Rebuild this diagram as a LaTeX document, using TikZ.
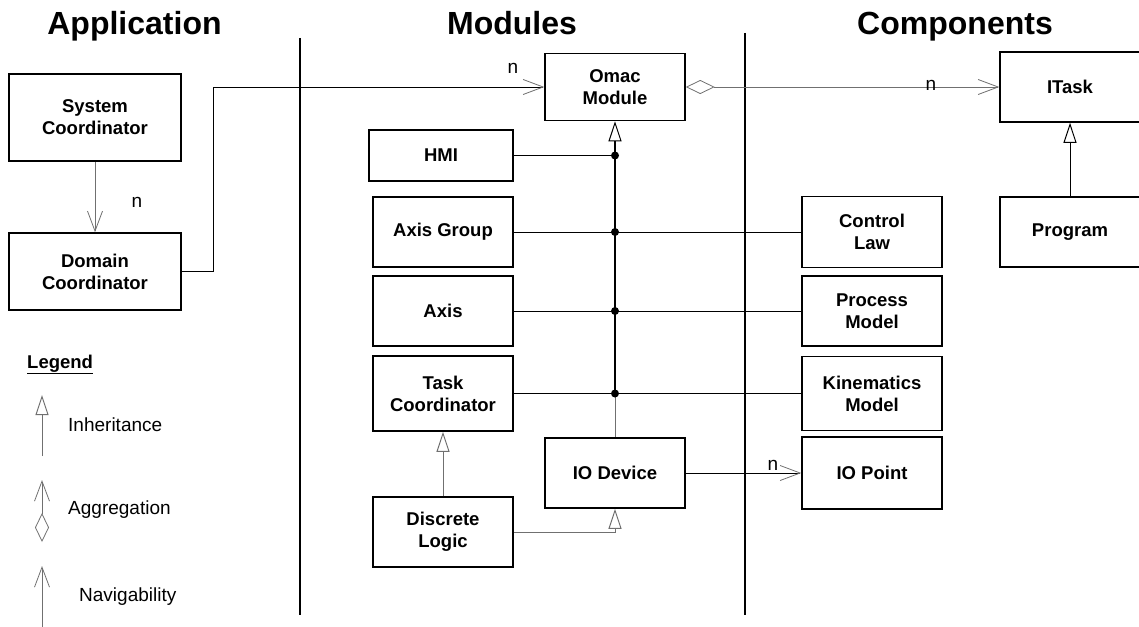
\documentclass[tikz,border=0pt]{standalone}
\usepackage{fontspec}
\setmainfont{Liberation Sans}
\usetikzlibrary{arrows.meta}
\definecolor{linegray}{HTML}{707070}
\begin{document}
\begin{tikzpicture}[x=1pt,y=-1pt,
  box/.style={draw, line width=1.5pt, align=center, inner sep=0pt, font=\bfseries\fontsize{18.5}{22}\selectfont},
  ttl/.style={font=\bfseries\fontsize{32}{38}\selectfont, anchor=base, inner sep=0pt},
  lbl/.style={font=\fontsize{19}{22}\selectfont, inner sep=0pt},
  conn/.style={line width=0.9pt},
  grayconn/.style={line width=0.9pt, draw=linegray},
  navi/.style={-{Straight Barb[length=20pt,width=15pt,line width=0.8pt,color=linegray]}},
  inh/.style={-{Triangle[open,length=20pt,width=13pt,line width=1pt]}},
  aggr/.style={{Diamond[open,length=29pt,width=14pt,line width=0.8pt,color=linegray]}-{Straight Barb[length=20pt,width=15pt,line width=0.8pt,color=linegray]}},
  bus/.style={line width=2.2pt},
  divider/.style={line width=2.8pt}
]
\useasboundingbox (0,0) rectangle (1139,626);

% titles
\node[ttl] (tapp) at (134.5,35) {Application};
\node[ttl] (tmod) at (512,35) {Modules};
\node[ttl] (tcomp) at (955,35) {Components};

% dividers
\coordinate (d1t) at (300,38);
\coordinate (d1b) at (300,615);
\coordinate (d2t) at (745,33);
\coordinate (d2b) at (745,615);
\draw[divider] (d1t) -- (d1b);
\draw[divider] (d2t) -- (d2b);

% application boxes
\node[box, minimum width=172pt, minimum height=87pt] (sys) at (95,117.5) {System\\Coordinator};
\node[box, minimum width=172pt, minimum height=77pt] (dom) at (95,271.5) {Domain\\Coordinator};

% module boxes
\node[box, minimum width=140pt, minimum height=67pt] (omac) at (615,87) {Omac\\Module};
\node[box, minimum width=144pt, minimum height=51pt] (hmi) at (441,155.5) {HMI};
\node[box, minimum width=140pt, minimum height=70pt] (axg) at (443,232) {Axis Group};
\node[box, minimum width=140pt, minimum height=70pt] (axis) at (443,311) {Axis};
\node[box, minimum width=140pt, minimum height=75pt] (task) at (443,393.5) {Task\\Coordinator};
\node[box, minimum width=140pt, minimum height=70pt] (disc) at (443,532) {Discrete\\Logic};
\node[box, minimum width=140pt, minimum height=70pt] (iodev) at (615,473) {IO Device};

% component boxes
\node[box, minimum width=140pt, minimum height=71pt] (ctl) at (872,232) {Control\\Law};
\node[box, minimum width=140pt, minimum height=70pt] (proc) at (872,311) {Process\\Model};
\node[box, minimum width=140pt, minimum height=74pt] (kin) at (872,393.5) {Kinematics\\Model};
\node[box, minimum width=140pt, minimum height=72pt] (iopt) at (872,473) {IO Point};
\node[box, minimum width=140pt, minimum height=70pt] (itask) at (1070,87) {ITask};
\node[box, minimum width=140pt, minimum height=70pt] (prog) at (1070,232) {Program};

% junctions
\coordinate (j1) at (615,155.5);
\coordinate (j2) at (615,232);
\coordinate (j3) at (615,311);
\coordinate (j4) at (615,393.5);
\coordinate (k1) at (213,87);

% connectors
\draw[grayconn, navi] (sys.south) -- (dom.north);
\draw[conn, navi] (dom.east) -| (k1) -- (omac.west);
\draw[grayconn, aggr] (omac.east) -- (itask.west);
\draw[conn] (hmi.east) -- (j1);
\draw[conn] (axg.east) -- (ctl.west);
\draw[conn] (axis.east) -- (proc.west);
\draw[conn] (task.east) -- (kin.west);
\draw[bus, inh] (j4) -- (omac.south);
\draw[grayconn] (j4) -- (iodev.north);
\draw[grayconn, inh] (disc.north) -- (task.south);
\draw[grayconn, inh] (disc.east) -| (iodev.south);
\draw[conn, navi] (iodev.east) -- (iopt.west);
\draw[conn, inh] (prog.north) -- (itask.south);

\foreach \j in {j1,j2,j3,j4} \fill (\j) circle (4pt);

% multiplicity labels
\node[lbl] (n1) at (137,202) {n};
\node[lbl] (n2) at (513,68) {n};
\node[lbl] (n3) at (931,85) {n};
\node[lbl] (n4) at (773,465) {n};

% legend
\node[font=\bfseries\fontsize{18.5}{22}\selectfont, anchor=base west, inner sep=0pt] (leg) at (27,368) {\underline{Legend}};
\coordinate (li1) at (42,456);
\coordinate (li2) at (42,395);
\draw[grayconn, inh] (li1) -- (li2);
\node[lbl, anchor=west] (tinh) at (68,425) {Inheritance};
\coordinate (la1) at (42,542);
\coordinate (la2) at (42,480);
\draw[grayconn, aggr] (la1) -- (la2);
\node[lbl, anchor=west] (tagg) at (68,510) {Aggregation};
\coordinate (ln1) at (42,630);
\coordinate (ln2) at (42,566);
\draw[grayconn, navi] (ln1) -- (ln2);
\node[lbl, anchor=west] (tnav) at (79,597) {Navigability};
\end{tikzpicture}
\end{document}
